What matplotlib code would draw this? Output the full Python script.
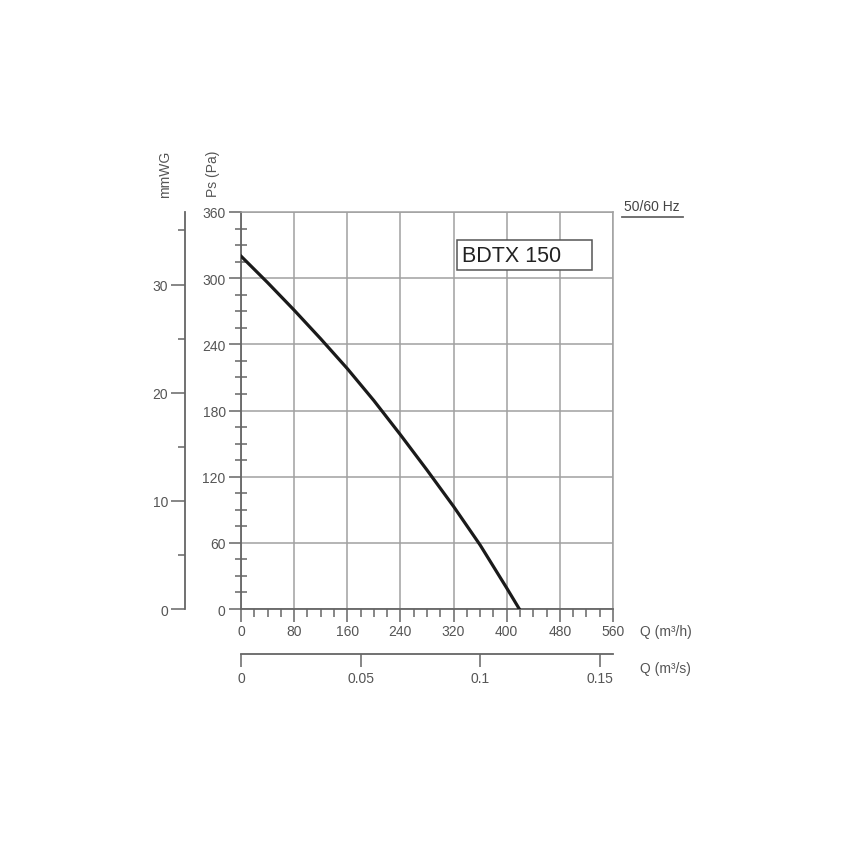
import matplotlib.pyplot as plt
import numpy as np
from matplotlib.ticker import MultipleLocator
from matplotlib.patches import Rectangle
from matplotlib.lines import Line2D

plt.rcParams['font.family'] = ['Liberation Sans', 'DejaVu Sans']

# fan curve: flow (m3/h) vs static pressure (Pa)
q_m3h = [0, 40, 80, 120, 160, 200, 240, 280, 320, 360, 400, 419]
ps_pa = [320, 296, 271, 245, 218, 189, 158, 126, 93, 58, 19, 0]

model = "BDTX 150"
freq = "50/60 Hz"
q_ticks = [0, 80, 160, 240, 320, 400, 480, 560]
ps_ticks = [0, 60, 120, 180, 240, 300, 360]
mmwg_ticks = [0, 10, 20, 30]
qs_ticks = [0, 0.05, 0.1, 0.15]
qs_labels = ["0", "0.05", "0.1", "0.15"]

W, H = 852, 845
fig = plt.figure(figsize=(W / 100, H / 100), dpi=100)

def px(x, y):
    return x / W, 1 - y / H

x0, x1, ytop, ybot = 241, 613, 213, 610
ax = fig.add_axes([x0 / W, 1 - ybot / H, (x1 - x0) / W, (ybot - ytop) / H])

txt = '#555555'
grid_c = '#a0a0a0'

ax.plot(q_m3h, ps_pa, color='#1a1a1a', lw=2.3, zorder=3,
        solid_joinstyle='round')
ax.set_xlim(0, 560)
ax.set_ylim(0, 360)
ax.set_xticks(q_ticks)
ax.set_yticks(ps_ticks)
ax.xaxis.set_minor_locator(MultipleLocator(20))
ax.yaxis.set_minor_locator(MultipleLocator(15))
ax.grid(True, which='major', color=grid_c, lw=1.1, zorder=0)

for s in ['top', 'right']:
    ax.spines[s].set_color(grid_c)
    ax.spines[s].set_linewidth(1.1)
for s in ['left', 'bottom']:
    ax.spines[s].set_color('#666666')
    ax.spines[s].set_linewidth(1.3)

ax.tick_params(which='major', length=9, width=1.1, color='#666666',
               labelsize=10, labelcolor=txt, pad=2)
ax.tick_params(axis='x', which='minor', length=6, width=1.1, color='#666666',
               direction='out')
ax.tick_params(axis='y', which='minor', length=8, width=1.1, color='#666666',
               direction='inout')

# mmWG scale on the far left
sec_y = ax.secondary_yaxis((185 - x0) / (x1 - x0),
                           functions=(lambda p: p / 9.80665, lambda m: m * 9.80665))
sec_y.set_yticks(mmwg_ticks)
sec_y.yaxis.set_minor_locator(MultipleLocator(5))
sec_y.spines['left'].set_color('#666666')
sec_y.spines['left'].set_linewidth(1.3)
sec_y.tick_params(which='major', length=10, width=1.1, color='#666666',
                  labelsize=10, labelcolor=txt, pad=2)
sec_y.tick_params(which='minor', length=5, width=1.1, color='#666666')

# m3/s scale under the main axis
sec_x = ax.secondary_xaxis(-(655 - ybot) / (ybot - ytop),
                           functions=(lambda q: q / 3600, lambda s: s * 3600))
sec_x.set_xticks(qs_ticks)
sec_x.set_xticklabels(qs_labels)
sec_x.spines['bottom'].set_color('#666666')
sec_x.spines['bottom'].set_linewidth(1.3)
sec_x.tick_params(which='major', length=9, width=1.1, color='#666666',
                  labelsize=10, labelcolor=txt, pad=3)

# model label box
ax.add_patch(Rectangle((325, 307.5), 203, 27.5, facecolor='white',
                       edgecolor='#555555', lw=1.1, zorder=4))
ax.text(332, 321, model, fontsize=15.5, color='#222222', va='center',
        ha='left', zorder=5)

# axis titles
fig.text(*px(165, 174), "mmWG", rotation=90, ha='center', va='center',
         fontsize=10, color=txt)
fig.text(*px(213, 174), "Ps (Pa)", rotation=90, ha='center', va='center',
         fontsize=10, color=txt)
fig.text(*px(640, 632), "Q (m³/h)", ha='left', va='center', fontsize=10, color=txt)
fig.text(*px(640, 669), "Q (m³/s)", ha='left', va='center', fontsize=10, color=txt)

# frequency tag with underline
fig.text(*px(652, 207), freq, ha='center', va='center', fontsize=10, color='#444444')
xa, ya = px(622, 218)
xb, yb = px(683, 218)
fig.add_artist(Line2D([xa, xb], [ya, yb], color='#666666', lw=1.3))

plt.savefig('out.png', dpi=100)
